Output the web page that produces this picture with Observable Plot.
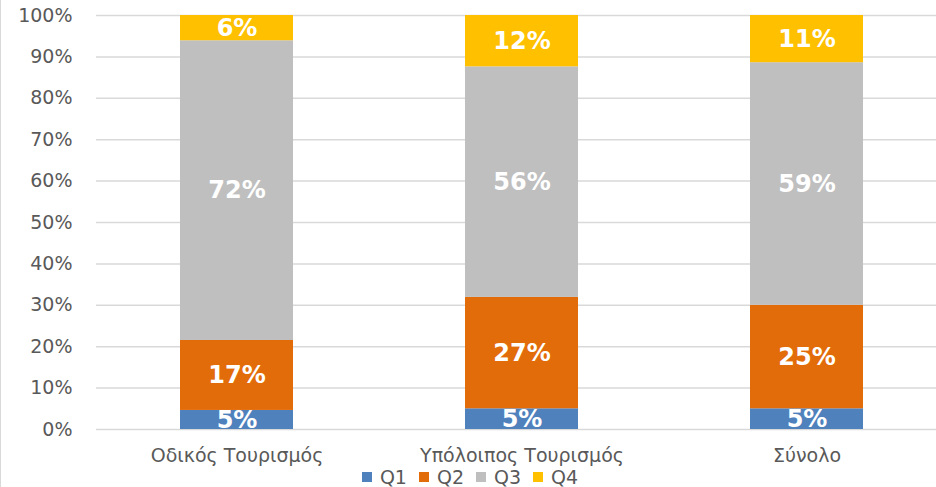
<!DOCTYPE html>
<html>
<head>
<meta charset="utf-8">
<script src="https://cdn.jsdelivr.net/npm/d3@7"></script>
<script src="https://cdn.jsdelivr.net/npm/@observablehq/plot@0.6"></script>
<style>
  html, body { margin: 0; padding: 0; background: #fff; }
  #wrap { position: relative; width: 936px; height: 487px; overflow: hidden; }
  #edge { position: absolute; left: 0; top: 0; width: 1px; height: 487px; background: #d9d9d9; }
  #legend { display: flex; justify-content: center; align-items: center; height: 21px;
            font-family: "DejaVu Sans", sans-serif; font-size: 19px; color: #595959; padding-left: 4px; }
  .item { display: flex; align-items: center; margin: 0 6px; }
  .sw { width: 10px; height: 10px; margin-right: 8px; }
</style>
</head>
<body>
<div id="wrap"><div id="edge"></div><div id="chart"></div><div id="legend"></div></div>
<script>
const categories = ["Οδικός Τουρισμός", "Υπόλοιπος Τουρισμός", "Σύνολο"];
const quarters = ["Q1", "Q2", "Q3", "Q4"];
const q1 = [4.6, 5.0, 5.0];
const q2 = [16.9, 26.9, 25.0];
const q3 = [72.4, 55.7, 58.6];
const q4 = [6.1, 12.4, 11.4];
const yTicks = [0, 10, 20, 30, 40, 50, 60, 70, 80, 90, 100];
const colors = ["#4f81bd", "#e36c0a", "#bfbfbf", "#ffc000"];

const series = [q1, q2, q3, q4];
const rows = [];
categories.forEach((c, i) => {
  quarters.forEach((q, j) => rows.push({category: c, quarter: q, value: series[j][i]}));
});

const chart = Plot.plot({
  width: 936,
  height: 466,
  marginLeft: 96,
  marginRight: 0,
  marginTop: 15,
  marginBottom: 37,
  style: {fontFamily: "DejaVu Sans, sans-serif", fontSize: "19px", color: "#595959", background: "transparent"},
  x: {domain: categories, range: [94, 949], paddingInner: 0.604, paddingOuter: 0.302, label: null},
  y: {domain: [0, 100], label: null},
  color: {domain: quarters, range: colors},
  marks: [
    Plot.gridY(yTicks, {stroke: "#d9d9d9", strokeOpacity: 1, strokeWidth: 1.5}),
    Plot.barY(rows, Plot.stackY({x: "category", y: "value", fill: "quarter", z: "quarter"})),
    Plot.textY(rows, Plot.stackY({
      x: "category", y: "value", z: "quarter",
      text: d => Math.round(d.value) + "%",
      fill: "white", fontWeight: "bold", fontSize: 24, fontFamily: "DejaVu Sans, sans-serif"
    })),
    Plot.axisY(yTicks, {tickSize: 0, tickPadding: 24, tickFormat: d => d + "%", fontSize: 19, fill: "#595959", label: null}),
    Plot.axisX({tickSize: 0, tickPadding: 19, fontSize: 19, fill: "#595959", label: null})
  ]
});
document.getElementById("chart").appendChild(chart);

const legend = document.getElementById("legend");
quarters.forEach((q, i) => {
  const it = document.createElement("div");
  it.className = "item";
  const sw = document.createElement("div");
  sw.className = "sw";
  sw.style.background = colors[i];
  const t = document.createElement("span");
  t.textContent = q;
  it.appendChild(sw);
  it.appendChild(t);
  legend.appendChild(it);
});
</script>
</body>
</html>
